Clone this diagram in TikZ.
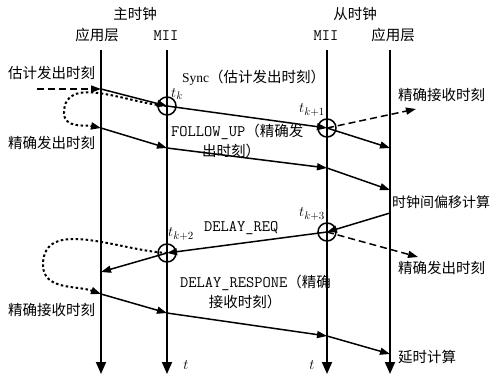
\documentclass[tikz,border=0pt]{standalone}
\usepackage{fontspec}
\setmainfont{Liberation Serif}
\newfontfamily\cjk{Noto Sans CJK SC}
\newcommand{\monofnt}{\fontsize{16}{18}\ttfamily\addfontfeatures{FakeStretch=0.82,FakeBold=0.4}}
\usetikzlibrary{arrows.meta}
\begin{document}
\begin{tikzpicture}[x=1pt,y=-1pt,
  axisline/.style={line width=1.8pt,-{Triangle[length=12pt,width=10pt]}},
  msg/.style={line width=1.5pt,-{Triangle[length=10pt,width=7pt]}},
  dsh/.style={msg,dash pattern=on 7pt off 4pt},
  dotc/.style={msg,line width=2pt,dash pattern=on 2.5pt off 2.5pt},
  lbl/.style={inner sep=0pt,font=\fontsize{14.5}{17}\cjk},
  mono/.style={inner sep=0pt,font=\monofnt},
  tl/.style={inner sep=0pt,font=\fontsize{15}{16}\selectfont},
  ring/.style={circle,draw,line width=1.5pt,minimum size=18pt,inner sep=0pt}]
\useasboundingbox (0,0) rectangle (492,375);

% titles
\node[lbl] (tmain) at (135,14) {主时钟};
\node[lbl] (tapp1) at (97,35) {应用层};
\node[mono] (tmii1) at (166,36) {MII};
\node[lbl] (tslave) at (355,14) {从时钟};
\node[mono] (tmii2) at (326,36) {MII};
\node[lbl] (tapp2) at (393,35) {应用层};

% time axes
\coordinate (a1t) at (101,50); \coordinate (a1b) at (101,374);
\coordinate (a2t) at (167,50); \coordinate (a2b) at (167,374);
\coordinate (a3t) at (327,50); \coordinate (a3b) at (327,374);
\coordinate (a4t) at (390,50); \coordinate (a4b) at (390,374);
\draw[axisline] (a1t) -- (a1b);
\draw[axisline] (a2t) -- (a2b);
\draw[axisline] (a3t) -- (a3b);
\draw[axisline] (a4t) -- (a4b);

% rings
\node[ring] (ck)  at (167,106) {};
\node[ring] (ck1) at (327,128) {};
\node[ring] (ck3) at (327,232) {};
\node[ring] (ck2) at (167,253) {};

% points
\coordinate (s0) at (37,89);  \coordinate (s1) at (101,89);
\coordinate (s3) at (390,148);
\coordinate (f0) at (101,128); \coordinate (f1) at (167,148);
\coordinate (f2) at (327,168); \coordinate (f3) at (390,190);
\coordinate (r0) at (390,213); \coordinate (r3) at (101,272);
\coordinate (p0) at (101,294); \coordinate (p1) at (167,313);
\coordinate (p2) at (327,336); \coordinate (p3) at (390,354);
\coordinate (e1) at (416,109); \coordinate (e2) at (418,257);

% Sync
\draw[dsh] (s0) -- (s1);
\draw[msg] (s1) -- (ck.center);
\draw[msg] (ck.center) -- (ck1.center);
\draw[msg] (ck1.center) -- (s3);
\draw[dsh] (ck1.center) -- (e1);
\draw[dotc] (ck.center) to[out=176,in=90] (64,113) to[out=-90,in=168] (f0);

% Follow up
\draw[msg] (f0) -- (f1);
\draw[msg] (f1) -- (f2);
\draw[msg] (f2) -- (f3);

% Delay req
\draw[msg] (r0) -- (ck3.center);
\draw[msg] (ck3.center) -- (ck2.center);
\draw[msg] (ck2.center) -- (r3);
\draw[dsh] (ck3.center) -- (e2);
\draw[dotc] (ck2.center) to[out=177,in=90] (43,265) to[out=-90,in=160] (p0);

% Delay response
\draw[msg] (p0) -- (p1);
\draw[msg] (p1) -- (p2);
\draw[msg] (p2) -- (p3);

% labels
\node[lbl,anchor=west] (l1) at (8,73) {估计发出时刻};
\node[inner sep=0pt,anchor=west] (l2) at (182,78) {{\fontsize{13.5}{16}\selectfont Sync}{\fontsize{14.5}{17}\cjk （估计发出时刻）}};
\node[lbl,anchor=west] (l3) at (398,95) {精确接收时刻};
\node[lbl,anchor=west] (l4) at (8,143) {精确发出时刻};
\node[inner sep=0pt,anchor=west] (l5) at (171,132) {{\monofnt FOLLOW\_UP}{\fontsize{14.5}{17}\cjk （精确发}};
\node[lbl] (l5b) at (231,151) {出时刻）};
\node[lbl,anchor=west,font=\fontsize{14}{17}\cjk] (l6) at (392,202) {时钟间偏移计算};
\node[mono,anchor=west] (l7) at (204,228) {DELAY\_REQ};
\node[lbl,anchor=west] (l8) at (398,268) {精确发出时刻};
\node[inner sep=0pt,anchor=west] (l9) at (180,283) {{\monofnt DELAY\_RESPONE}{\fontsize{14.5}{17}\cjk （精确}};
\node[lbl] (l9b) at (245,302) {接收时刻）};
\node[lbl,anchor=west] (l10) at (8,310) {精确接收时刻};
\node[lbl,anchor=west] (l11) at (398,357) {延时计算};

% time labels
\node[tl] (tk) at (177,94) {$t_k$};
\node[tl] (tk1) at (312,110) {$t_{k+1}$};
\node[tl] (tk2) at (181,234) {$t_{k+2}$};
\node[tl] (tk3) at (312,214) {$t_{k+3}$};
\node[tl] (tt1) at (186,365) {$t$};
\node[tl] (tt2) at (312,365) {$t$};
\end{tikzpicture}
\end{document}
